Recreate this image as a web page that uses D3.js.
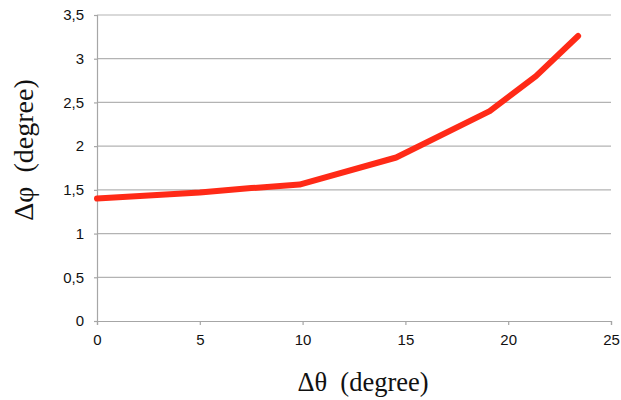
<!DOCTYPE html>
<html>
<head>
<meta charset="utf-8">
<script src="https://cdn.jsdelivr.net/npm/d3@7"></script>
<style>
  body { margin: 0; background: #fff; }
  .title { font-family: "Liberation Serif", "Times New Roman", serif; fill: #111; white-space: pre; }
</style>
</head>
<body>
<svg id="chart" width="621" height="400"></svg>
<script>
// values
const dTheta = [0, 5, 7.5, 9.85, 14.55, 19.1, 21.35, 23.4];
const dPhi = [1.4, 1.47, 1.52, 1.56, 1.87, 2.4, 2.8, 3.26];
const xTicks = [0, 5, 10, 15, 20, 25];
const yTicks = [0, 0.5, 1, 1.5, 2, 2.5, 3, 3.5];

const svg = d3.select("#chart");
const margin = {left: 97, right: 10, top: 15, bottom: 79};
const width = +svg.attr("width");
const height = +svg.attr("height");

const x = d3.scaleLinear().domain([0, 25]).range([margin.left, width - margin.right]);
const y = d3.scaleLinear().domain([0, 3.5]).range([height - margin.bottom, margin.top]);

const fmt = d => String(d).replace(".", ",");

// gridlines
svg.append("g")
  .selectAll("line")
  .data(yTicks.filter(d => d > 0))
  .enter()
  .append("line")
  .attr("x1", x(0))
  .attr("x2", x(25))
  .attr("y1", d => y(d))
  .attr("y2", d => y(d))
  .attr("stroke", "#b3b3b3")
  .attr("stroke-width", 1.2);

const yAxis = svg.append("g")
  .attr("transform", `translate(${x(0)},0)`)
  .call(d3.axisLeft(y).tickValues(yTicks).tickFormat(fmt).tickSize(3).tickPadding(10));

const xAxis = svg.append("g")
  .attr("transform", `translate(0,${y(0)})`)
  .call(d3.axisBottom(x).tickValues(xTicks).tickSize(4).tickPadding(9));

[yAxis, xAxis].forEach(a => {
  a.attr("font-family", "'Liberation Sans', Arial, sans-serif").attr("font-size", 15);
  a.selectAll(".tick text").attr("fill", "#111");
  a.select(".domain").attr("stroke", "#a6a6a6").attr("stroke-width", 1.2);
  a.selectAll(".tick line").attr("stroke", "#a6a6a6").attr("stroke-width", 1.2);
});

const line = d3.line()
  .x((d, i) => x(dTheta[i]))
  .y(d => y(d));

svg.append("path")
  .datum(dPhi)
  .attr("d", line)
  .attr("fill", "none")
  .attr("stroke", "#ff2a17")
  .attr("stroke-width", 6)
  .attr("stroke-linecap", "round")
  .attr("stroke-linejoin", "round");

svg.append("text")
  .attr("class", "title")
  .attr("x", 363)
  .attr("y", 391)
  .attr("font-size", 26.5)
  .attr("text-anchor", "middle")
  .text("Δθ  (degree)");

svg.append("text")
  .attr("class", "title")
  .attr("transform", "translate(33,150) rotate(-90)")
  .attr("font-size", 28)
  .attr("text-anchor", "middle")
  .text("Δφ  (degree)");
</script>
</body>
</html>
